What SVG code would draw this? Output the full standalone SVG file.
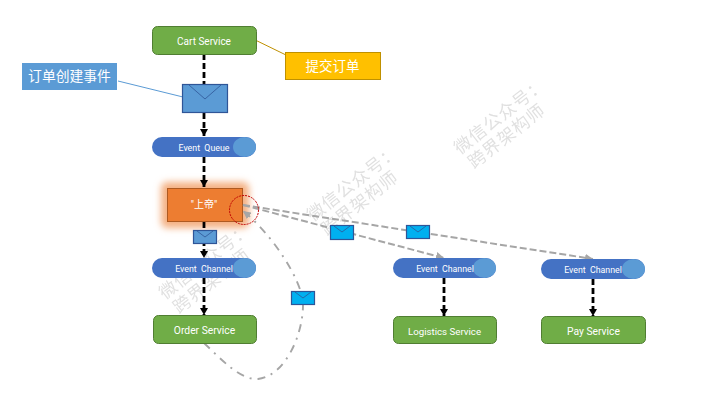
<svg xmlns="http://www.w3.org/2000/svg" width="720" height="405" viewBox="0 0 720 405">
<style>
text{font-family:Roboto,"Noto Sans CJK SC",sans-serif;fill:#fff;text-anchor:middle}
.svc{fill:#70ad47;stroke:#507e32;stroke-width:1}
.lbl{font-size:10px}
.lbb{font-size:10.300px}
.pill{fill:#4472c4}
.knob{fill:#5b9bd5}
.pl{font-size:8.800px}
.wm{font-size:17.500px;letter-spacing:1px;fill:#d9d9d9;opacity:.8;font-family:"Noto Sans CJK SC",sans-serif}
.blk{fill:none;stroke:#000;stroke-width:2.800;stroke-dasharray:6 3}
.gry{fill:none;stroke:#a6a6a6;stroke-width:2;stroke-dasharray:7 3}
.dd{fill:none;stroke:#a6a6a6;stroke-width:1.900;stroke-dasharray:8 6 2 6}
.env{stroke:#2f5597;stroke-width:1.200}
.fold{fill:none;stroke:#2f5597;stroke-width:.8}
</style>
<defs>
<marker id="ab" markerUnits="userSpaceOnUse" markerWidth="8" markerHeight="8" refX="7" refY="4" orient="auto"><path d="M0 0L7 4L0 8z" fill="#000"/></marker>
<marker id="ag" markerUnits="userSpaceOnUse" markerWidth="9" markerHeight="8" refX="8" refY="4" orient="auto"><path d="M0 0L8 4L0 8z" fill="#a6a6a6"/></marker>
<filter id="glow" x="-20%" y="-30%" width="140%" height="160%"><feGaussianBlur stdDeviation="3.500"/></filter>
</defs>
<rect width="720" height="405" fill="#fff"/>
<g id="watermarks">
<g transform="translate(500,116) rotate(-38)"><text class="wm" x="0" y="6">微信公众号：</text><text class="wm" x="-7" y="26">跨界架构师</text></g>
<g transform="translate(353,183) rotate(-38)"><text class="wm" x="0" y="6">微信公众号：</text><text class="wm" x="-7" y="26">跨界架构师</text></g>
<g transform="translate(205,261) rotate(-38)"><text class="wm" x="0" y="6">微信公众号：</text><text class="wm" x="-7" y="26">跨界架构师</text></g>
</g>
<rect id="god-glow" x="161" y="182" width="88" height="46" rx="6" fill="#f4b183" filter="url(#glow)"/>
<g id="connectors">
<path class="blk" d="M204 54V84"/>
<path class="blk" d="M204 113V136" marker-end="url(#ab)"/>
<path class="blk" d="M204 157V187" marker-end="url(#ab)"/>
<path class="blk" d="M204 222V258" marker-end="url(#ab)"/>
<path class="blk" d="M204 278V315" marker-end="url(#ab)"/>
<path class="blk" d="M444 278V316" marker-end="url(#ab)"/>
<path class="blk" d="M593 279V316" marker-end="url(#ab)"/>
<path d="M118 81L183 97" stroke="#5b9bd5" fill="none"/>
<path d="M247 36L286 55" stroke="#bf9000" fill="none"/>
</g>
<g id="cart-service"><rect class="svc" x="152.500" y="26.500" width="104" height="28" rx="5"/><text class="lbl" x="204" y="44.500">Cart Service</text></g>
<g id="note-submit"><rect x="285.500" y="52.500" width="95" height="27" fill="#ffc000" stroke="#bf9000"/><text x="332.500" y="70.500" font-size="13.500">提交订单</text></g>
<g id="note-event"><rect x="22" y="63" width="95" height="27" fill="#5b9bd5"/><text x="69.500" y="81" font-size="13.800">订单创建事件</text></g>
<g id="envelope-main"><rect class="knob env" x="182.500" y="84.500" width="45" height="28"/><path class="fold" d="M189 85L205 99L221 85"/></g>
<g id="event-queue"><rect class="pill" x="152" y="137" width="104" height="20" rx="10"/><ellipse class="knob" cx="244.500" cy="147" rx="11.500" ry="10"/><text class="pl" x="204" y="150.500" xml:space="preserve">Event  Queue</text></g>
<g id="god"><rect x="167.500" y="188.500" width="75" height="33" fill="#ed7d31" stroke="#ae5a21"/><text x="204" y="208" font-size="10px">"上帝"</text></g>
<g id="overlay-connectors">
<path class="gry" d="M243 205L444 258" marker-end="url(#ag)"/>
<path class="gry" d="M243 205L593 259" marker-end="url(#ag)"/>
<path class="dd" d="M204 343C222 360 240 380 258 379C285 376 303 335 303 305C303 280 270 232 243 211" marker-end="url(#ag)"/>
</g>
<g id="highlight"><circle cx="244" cy="210" r="14.500" fill="none" stroke="#c00000" stroke-dasharray="2 1"/></g>
<g id="envelope-1"><rect class="knob env" x="193.500" y="230.500" width="23" height="13"/><path class="fold" d="M197 231L205 237L213 231"/></g>
<g id="event-channel-1"><rect class="pill" x="152" y="258" width="104" height="20" rx="10"/><ellipse class="knob" cx="244.500" cy="268" rx="11.500" ry="10"/><text class="pl" x="204" y="271.500" xml:space="preserve">Event  Channel</text></g>
<g id="order-service"><rect class="svc" x="153.500" y="315.500" width="103" height="28" rx="5"/><text class="lbb" x="204.500" y="333.500">Order Service</text></g>
<g id="envelope-2"><rect fill="#00b0f0" class="env" x="291.500" y="291.500" width="23" height="13"/><path class="fold" d="M295 292L303 298L311 292"/></g>
<g id="envelope-3"><rect fill="#00b0f0" class="env" x="330.500" y="225.500" width="23" height="14"/><path class="fold" d="M334 226L342 232L350 226"/></g>
<g id="envelope-4"><rect fill="#00b0f0" class="env" x="406.500" y="225.500" width="23" height="13"/><path class="fold" d="M410 226L418 232L426 226"/></g>
<g id="event-channel-2"><rect class="pill" x="393" y="258" width="103" height="20" rx="10"/><ellipse class="knob" cx="484.500" cy="268" rx="11.500" ry="10"/><text class="pl" x="445" y="271.500" xml:space="preserve">Event  Channel</text></g>
<g id="event-channel-3"><rect class="pill" x="541" y="259" width="104" height="20" rx="10"/><ellipse class="knob" cx="633.500" cy="269" rx="11.500" ry="10"/><text class="pl" x="593" y="272.500" xml:space="preserve">Event  Channel</text></g>
<g id="logistics-service"><rect class="svc" x="393.500" y="316.500" width="103" height="27" rx="5"/><text x="444.500" y="334.500" font-size="9.700px">Logistics Service</text></g>
<g id="pay-service"><rect class="svc" x="541.500" y="316.500" width="104" height="27" rx="5"/><text class="lbb" x="593.500" y="334.500">Pay Service</text></g>
</svg>
